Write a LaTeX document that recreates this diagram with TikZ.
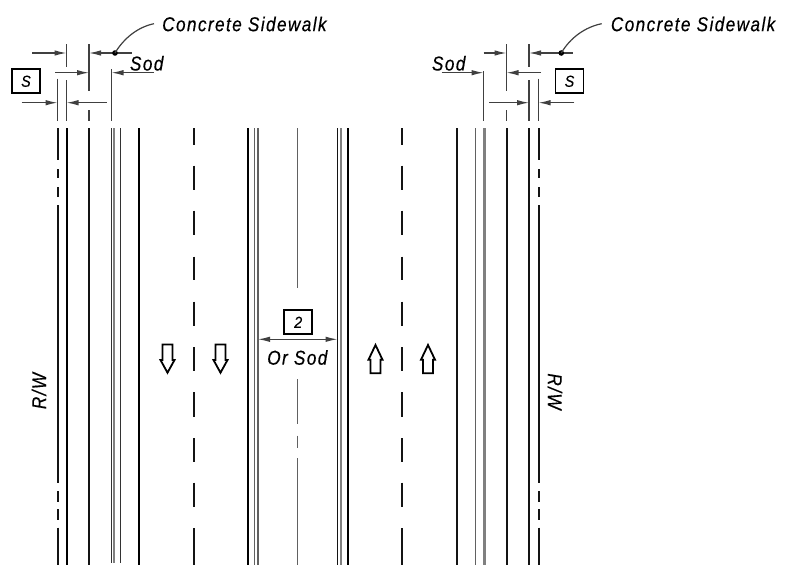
\documentclass[tikz,border=0pt]{standalone}
\usepackage{fontspec}
\setmainfont{Liberation Sans}
\usetikzlibrary{arrows.meta}
\tikzset{
    thickln/.style={line width=2pt, black},
    medln/.style={line width=2pt, black!92},
    thinln/.style={line width=1.6pt, black!62},
    grayln/.style={line width=2pt, black!50},
    dimln/.style={line width=1.2pt, black!75},
    dimarr/.style={line width=1.2pt, black!75, -{Latex[length=12pt, width=5.5pt]}},
    lab/.style={font=\fontsize{20}{20}\itshape\addfontfeature{FakeStretch=0.86, LetterSpace=7, FakeBold=0.4}, inner sep=0pt},
    boxed/.style={draw, line width=1.8pt, minimum width=28pt, minimum height=24pt, inner sep=0pt,
        font=\fontsize{16}{16}\itshape\addfontfeature{FakeStretch=0.9, FakeBold=0.4}},
    lanearrow/.style={draw, line width=1.8pt, fill=white}
}
\begin{document}
\begin{tikzpicture}[x=1pt, y=-1pt]
    \useasboundingbox (0, 0) rectangle (785, 568);
    % road lines
    \foreach \xpos in {66.5, 139, 248, 347.5}
        \draw [thickln] (\xpos, 128) -- (\xpos, 565);
    \foreach \xpos in {89, 456.5, 506.5, 529}
        \draw [medln] (\xpos, 128) -- (\xpos, 565);
    \foreach \xpos in {111.5, 120.5}
        \draw [thinln, black!80] (\xpos, 128) -- (\xpos, 562.7);
    \draw [grayln] (114, 128) -- (114, 562.7);
    \draw [thinln] (254.5, 128) -- (254.5, 565);
    \draw [thinln] (258, 128) -- (258, 565);
    \draw [medln, line width=1.6pt] (337.5, 128) -- (337.5, 565);
    \draw [grayln, line width=2.4pt] (341, 128) -- (341, 565);
    \draw [thinln] (475.5, 128) -- (475.5, 565);
    \draw [grayln, line width=3pt] (484, 128) -- (484, 565);
    % right of way
    \foreach \xpos in {57.5, 538.5} {
        \draw [medln] (\xpos, 128) -- (\xpos, 160);
        \draw [medln] (\xpos, 169) -- (\xpos, 178);
        \draw [medln] (\xpos, 187) -- (\xpos, 197);
        \draw [medln] (\xpos, 205) -- (\xpos, 483.3);
        \draw [medln] (\xpos, 491) -- (\xpos, 501.5);
        \draw [medln] (\xpos, 509) -- (\xpos, 519.5);
        \draw [medln] (\xpos, 527.7) -- (\xpos, 565);
    }
    % lane lines
    \foreach \xpos in {193.5, 402} {
        \draw [medln] (\xpos, 128) -- (\xpos, 144.7);
        \foreach \ya/\yb in {165.7/190, 210.7/235, 256.7/280, 301.7/325.7, 347.3/371,
            392.3/417, 438.3/462, 482.7/507, 528.3/565}
            \draw [medln] (\xpos, \ya) -- (\xpos, \yb);
    }
    % median center
    \draw [thinln] (297.5, 128) -- (297.5, 287.7);
    \draw [thinln] (297.5, 379) -- (297.5, 424.3);
    \draw [thinln] (297.5, 435.7) -- (297.5, 447.7);
    \draw [thinln] (297.5, 458.3) -- (297.5, 565);
    % traffic arrows
    \foreach \xpos in {167.5, 220.5}
        \draw [lanearrow] (\xpos-5, 344.5) -- (\xpos+5, 344.5) -- (\xpos+5, 360) -- (\xpos+7, 360) --
            (\xpos, 372.7) -- (\xpos-7, 360) -- (\xpos-5, 360) -- cycle;
    \foreach \xpos in {375.5, 428}
        \draw [lanearrow] (\xpos-5, 373.3) -- (\xpos+5, 373.3) -- (\xpos+5, 359.7) -- (\xpos+7, 359.7) --
            (\xpos, 345) -- (\xpos-7, 359.7) -- (\xpos-5, 359.7) -- cycle;
    % left dimensions
    \draw [dimln] (66.5, 44) -- (66.5, 66.7);
    \draw [dimln] (89, 44) -- (89, 91);
    \draw [dimln] (89, 110) -- (89, 120.7);
    \draw [dimln] (111.5, 69.3) -- (111.5, 120.7);
    \draw [dimln] (57.5, 78.7) -- (57.5, 120.7);
    \draw [dimln] (66.5, 80) -- (66.5, 120.7);
    \draw [dimarr] (32.3, 53) -- (66.5, 53);
    \draw [dimarr] (131.7, 53) -- (89, 53);
    \draw [dimarr] (55, 72.7) -- (89, 72.7);
    \draw [dimarr] (154, 72.7) -- (111.5, 72.7);
    \draw [dimarr] (21.7, 102.7) -- (57.5, 102.7);
    \draw [dimarr] (106.7, 102.7) -- (66.5, 102.7);
    % right dimensions
    \draw [dimln] (506.5, 44) -- (506.5, 91);
    \draw [dimln] (506.5, 110) -- (506.5, 120.7);
    \draw [dimln] (529, 44) -- (529, 66.7);
    \draw [dimln] (529, 80) -- (529, 120.7);
    \draw [dimln] (538.5, 78.7) -- (538.5, 120.7);
    \draw [dimln] (483.5, 71) -- (483.5, 120.7);
    \draw [dimarr] (483.5, 53) -- (506.5, 53);
    \draw [dimarr] (572.7, 53) -- (529, 53);
    \draw [dimarr] (441.7, 72.7) -- (483.5, 72.7);
    \draw [dimarr] (541, 72.7) -- (506.5, 72.7);
    \draw [dimarr] (489, 102.7) -- (529, 102.7);
    \draw [dimarr] (574.3, 102.7) -- (538.5, 102.7);
    % sidewalk leaders
    \fill (115, 53) circle (2.8);
    \fill (561.3, 53) circle (2.8);
    \draw [dimln] (115, 53) .. controls (124, 38) and (138, 27) .. (154, 23.7);
    \draw [dimln] (561.3, 53) .. controls (570, 38) and (585, 27) .. (601.7, 23.7);
    % median dimension
    \draw [dimarr, {Latex[length=12pt, width=5.5pt]}-{Latex[length=12pt, width=5.5pt]}] (258, 339.3) -- (337.5, 339.3);
    % labels
    \node [lab, anchor=west] (walkleft) at (162, 24) {Concrete Sidewalk};
    \node [lab, anchor=west] (walkright) at (610.7, 24) {Concrete Sidewalk};
    \node [lab] (sodleft) at (146.7, 63.3) {Sod};
    \node [lab] (sodright) at (448.7, 63.3) {Sod};
    \node [lab] (sodmid) at (297.3, 357.5) {Or Sod};
    \node [lab, rotate=90] (rowleft) at (39, 391) {R/W};
    \node [lab, rotate=-90] (rowright) at (555, 391.5) {R/W};
    \node [boxed] (boxleft) at (26, 81.3) {S};
    \node [boxed] (boxright) at (569.5, 81.3) {S};
    \node [boxed] (boxmid) at (298.2, 322.3) {2};
\end{tikzpicture}
\end{document}
